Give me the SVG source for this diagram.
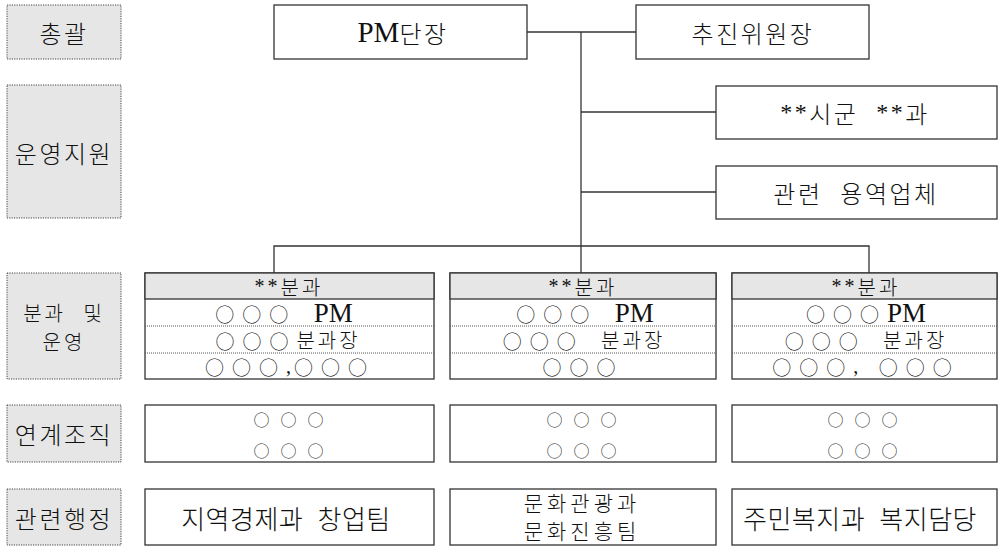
<svg xmlns="http://www.w3.org/2000/svg" width="998" height="546" viewBox="0 0 998 546">
<style>
.lab{fill:#e6e6e6;stroke:#444;stroke-width:1;stroke-dasharray:1.2 1.2}
.box{fill:#fff;stroke:#333;stroke-width:1.3}
.hdr{fill:#e6e6e6;stroke:#333;stroke-width:1.3}
.sep{stroke:#555;stroke-width:1;stroke-dasharray:1 1}
.con{fill:none;stroke:#333;stroke-width:1.3}
text{font-family:"Noto Sans CJK KR","Noto Sans CJK SC",sans-serif;font-weight:300;font-size:24px;fill:#111;text-anchor:middle;dominant-baseline:central;letter-spacing:2.5px;word-spacing:10px}
.r{font-size:20px;letter-spacing:3px}
.l2{font-size:21px;letter-spacing:4px}
.s{font-family:"Liberation Serif",serif;font-weight:400}
.pm{font-family:"Liberation Serif",serif;font-weight:400;font-size:29px;letter-spacing:0}
.o{font-size:19px;letter-spacing:8px}
.c{font-size:16px;letter-spacing:11px}
.big{font-size:26px;letter-spacing:0.5px;word-spacing:8px}
</style>
<g id="labels">
<g id="lab-chonggwal"><rect class="lab" x="7" y="5" width="114" height="54"/><text x="64" y="32">총괄</text></g>
<g id="lab-unyeong"><rect class="lab" x="7" y="85" width="114" height="133"/><text x="64" y="152">운영지원</text></g>
<g id="lab-bungwa"><rect class="lab" x="7" y="273" width="114" height="106"/><text class="r" x="64" y="312">분과 및</text><text class="r" x="64" y="341">운영</text></g>
<g id="lab-yeongye"><rect class="lab" x="7" y="405" width="114" height="57"/><text x="64" y="433">연계조직</text></g>
<g id="lab-gwallyeon"><rect class="lab" x="7" y="489" width="114" height="56"/><text x="64" y="517">관련행정</text></g>
</g>
<g id="connectors">
<line class="con" x1="527" y1="32" x2="636" y2="32"/>
<line class="con" x1="581" y1="32" x2="581" y2="273"/>
<line class="con" x1="581" y1="112" x2="716" y2="112"/>
<line class="con" x1="581" y1="192" x2="716" y2="192"/>
<polyline class="con" points="274,273 274,246 869,246 869,273"/>
</g>
<g id="pm"><rect class="box" x="274" y="5" width="253" height="54"/><text x="403" y="32"><tspan class="pm">PM</tspan>단장</text></g>
<g id="chair"><rect class="box" x="636" y="5" width="233" height="54"/><text x="753" y="32">추진위원장</text></g>
<g id="sigun"><rect class="box" x="716" y="86" width="281" height="53"/><text x="855" y="112"><tspan class="s">**</tspan>시군 <tspan class="s">**</tspan>과</text></g>
<g id="yongyeok"><rect class="box" x="716" y="166" width="281" height="53"/><text x="856" y="192">관련 용역업체</text></g>
<g id="div1">
<rect class="box" x="145" y="273" width="289" height="106"/>
<rect class="hdr" x="145" y="273" width="289" height="26"/>
<line class="sep" x1="145" y1="326" x2="434" y2="326"/><line class="sep" x1="145" y1="353" x2="434" y2="353"/>
<text class="r" x="289" y="286"><tspan class="s">**</tspan>분과</text>
<text class="r" x="284" y="312.5"><tspan class="o">○○○</tspan> <tspan class="pm" style="font-size:27px">PM</tspan></text>
<text class="r" x="288" y="339.5"><tspan class="o">○○○</tspan>분과장</text>
<text class="r" x="290" y="366"><tspan class="o">○○○</tspan><tspan class="s">,</tspan><tspan class="o">○○○</tspan></text>
</g>
<g id="div2">
<rect class="box" x="450" y="273" width="266" height="106"/>
<rect class="hdr" x="450" y="273" width="266" height="26"/>
<line class="sep" x1="450" y1="326" x2="716" y2="326"/><line class="sep" x1="450" y1="353" x2="716" y2="353"/>
<text class="r" x="583" y="286"><tspan class="s">**</tspan>분과</text>
<text class="r" x="585" y="312.5"><tspan class="o">○○○</tspan> <tspan class="pm" style="font-size:27px">PM</tspan></text>
<text class="r" x="584" y="339.5"><tspan class="o">○○○</tspan> 분과장</text>
<text class="r" x="583" y="366"><tspan class="o">○○○</tspan></text>
</g>
<g id="div3">
<rect class="box" x="732" y="273" width="265" height="106"/>
<rect class="hdr" x="732" y="273" width="265" height="26"/>
<line class="sep" x1="732" y1="326" x2="997" y2="326"/><line class="sep" x1="732" y1="353" x2="997" y2="353"/>
<text class="r" x="866" y="286"><tspan class="s">**</tspan>분과</text>
<text class="r" x="866" y="312.5"><tspan class="o">○○○</tspan><tspan class="pm" style="font-size:27px">PM</tspan></text>
<text class="r" x="866" y="339.5"><tspan class="o">○○○</tspan> 분과장</text>
<text class="r" x="866" y="366"><tspan class="o">○○○</tspan><tspan class="s">,</tspan> <tspan class="o">○○○</tspan></text>
</g>
<g id="link1"><rect class="box" x="145" y="405" width="289" height="57"/><text class="c" x="294" y="419">○○○</text><text class="c" x="294" y="450">○○○</text></g>
<g id="link2"><rect class="box" x="450" y="405" width="266" height="57"/><text class="c" x="587" y="419">○○○</text><text class="c" x="587" y="450">○○○</text></g>
<g id="link3"><rect class="box" x="732" y="405" width="265" height="57"/><text class="c" x="868" y="419">○○○</text><text class="c" x="868" y="450">○○○</text></g>
<g id="admin1"><rect class="box" x="145" y="489" width="289" height="56"/><text class="big" x="286" y="517">지역경제과 창업팀</text></g>
<g id="admin2"><rect class="box" x="450" y="489" width="266" height="56"/><text class="l2" x="582" y="502">문화관광과</text><text class="l2" x="582" y="530">문화진흥팀</text></g>
<g id="admin3"><rect class="box" x="732" y="489" width="265" height="56"/><text class="big" x="860" y="517">주민복지과 복지담당</text></g>
</svg>
